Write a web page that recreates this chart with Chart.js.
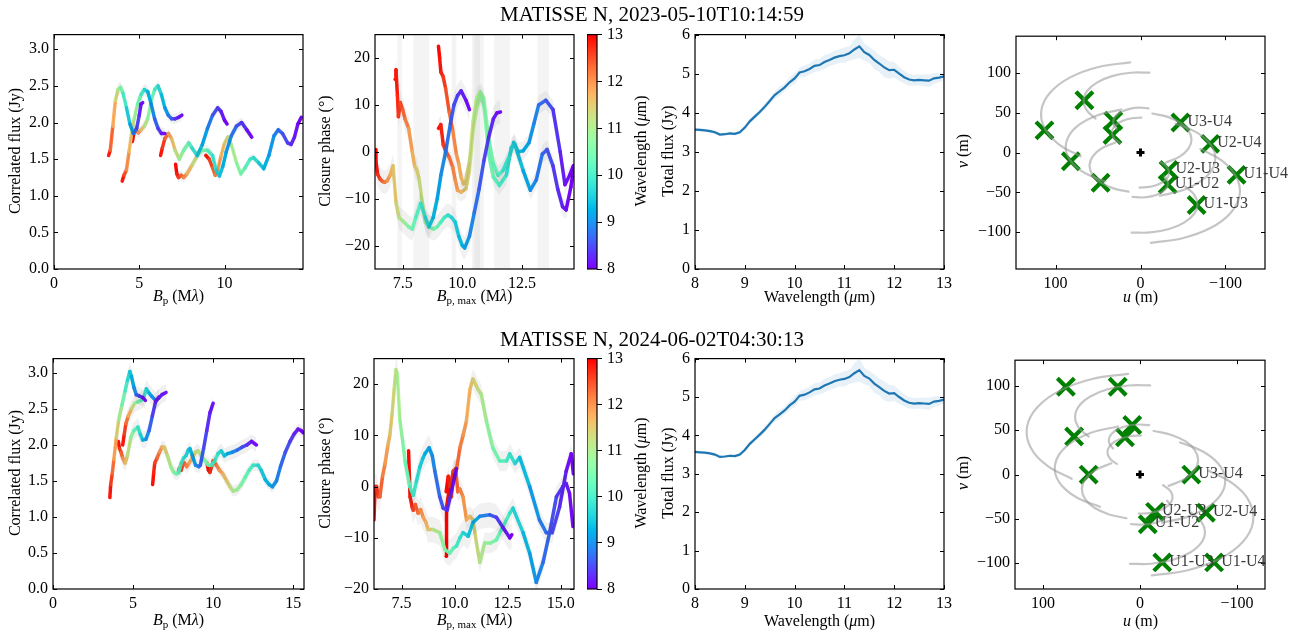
<!DOCTYPE html>
<html>
<head>
<meta charset="utf-8">
<script src="https://cdn.jsdelivr.net/npm/chart.js@4.4.1/dist/chart.umd.min.js"></script>
<style>
  body { margin: 0; background: #fff; width: 1303px; height: 635px; position: relative; overflow: hidden;
         font-family: "Liberation Serif", "Times New Roman", serif; }
  canvas { position: absolute; }
  .t { position: absolute; font-size: 16px; white-space: nowrap; color: #000; line-height: 1; }
  .c { transform: translate(-50%, -50%); }
  .r { transform: translate(-50%, -50%) rotate(-90deg); }
  .ttl { font-size: 21px; }
  sub { font-size: 11px; vertical-align: -3px; }
</style>
</head>
<body>
<script>
// ---- correlated flux, epoch 1 (baseline length in m, Bp in Mlambda, flux in Jy)
const cf1Base = [41.6, 52, 60, 81, 92.7, 115.6];
const cf1Bp = [
  [3.2, 3.3, 3.45, 3.6, 3.75, 3.9, 4.05, 4.25, 4.45, 4.65, 4.85, 5.0, 5.1, 5.2],
  [4.0, 4.1, 4.25, 4.4, 4.55, 4.7, 4.9, 5.1, 5.3, 5.5, 5.7, 5.9, 6.1, 6.3, 6.5],
  [4.6, 4.7, 4.8, 4.95, 5.1, 5.3, 5.5, 5.7, 5.9, 6.1, 6.3, 6.5, 6.7, 6.9, 7.1, 7.3, 7.5],
  [6.25, 6.35, 6.5, 6.7, 6.9, 7.1, 7.35, 7.6, 7.9, 8.1, 8.4, 8.7, 9.0, 9.3, 9.6, 9.8, 10.0, 10.15],
  [7.13, 7.2, 7.3, 7.45, 7.6, 7.8, 8.1, 8.4, 8.7, 9.0, 9.3, 9.5, 9.7, 9.9, 10.1, 10.4, 10.7, 11.0, 11.3, 11.6],
  [8.9, 9.1, 9.3, 9.45, 9.6, 9.8, 10.0, 10.2, 10.4, 10.7, 10.95, 11.2, 11.5, 11.7, 12.0, 12.3, 12.6, 12.9, 13.15, 13.4, 13.7, 13.9, 14.1, 14.3, 14.5]
];
const cf1Flux = [
  [1.55, 1.62, 1.95, 2.3, 2.45, 2.48, 2.4, 2.2, 1.98, 1.85, 1.92, 2.1, 2.25, 2.27],
  [1.2, 1.28, 1.35, 1.6, 1.85, 2.05, 2.25, 2.38, 2.45, 2.42, 2.25, 2.05, 1.92, 1.85, 1.85],
  [1.74, 1.88, 1.9, 1.86, 1.9, 1.95, 2.05, 2.3, 2.45, 2.5, 2.38, 2.2, 2.1, 2.05, 2.05, 2.07, 2.1],
  [1.55, 1.65, 1.78, 1.85, 1.78, 1.62, 1.5, 1.62, 1.72, 1.65, 1.55, 1.7, 1.92, 2.1, 2.2, 2.15, 2.03, 1.98],
  [1.43, 1.3, 1.25, 1.28, 1.25, 1.3, 1.42, 1.55, 1.62, 1.62, 1.55, 1.35, 1.27, 1.4, 1.6, 1.82, 1.95, 2.0, 1.9, 1.8],
  [1.55, 1.5, 1.38, 1.28, 1.35, 1.55, 1.72, 1.8, 1.7, 1.45, 1.3, 1.38, 1.5, 1.52, 1.45, 1.37, 1.55, 1.82, 1.9, 1.85, 1.72, 1.7, 1.8, 1.98, 2.07]
];
const cf1Err = [0.08, 0.08, 0.07, 0.06, 0.07, 0.05];

// ---- correlated flux, epoch 2
const cf2Base = [46, 53, 56.5, 80.6, 101.6, 125];
const cf2Bp = [
  [3.55, 3.6, 3.7, 3.8, 3.95, 4.1, 4.3, 4.5, 4.65, 4.8, 4.9, 5.05, 5.2, 5.4, 5.6, 5.77],
  [4.08, 4.15, 4.25, 4.35, 4.5, 4.65, 4.85, 5.05, 5.3, 5.45, 5.6, 5.8, 6.0, 6.2, 6.4, 6.63],
  [4.35, 4.45, 4.55, 4.7, 4.9, 5.1, 5.3, 5.5, 5.65, 5.83, 6.0, 6.15, 6.4, 6.6, 6.8, 7.06],
  [6.22, 6.28, 6.35, 6.5, 6.65, 6.8, 6.95, 7.15, 7.35, 7.55, 7.7, 7.85, 8.0, 8.15, 8.3, 8.45, 8.55, 8.7, 8.9, 9.1, 9.2, 9.4, 9.6, 9.8, 10.0],
  [7.82, 7.9, 8.0, 8.1, 8.2, 8.35, 8.5, 8.7, 8.9, 9.05, 9.25, 9.5, 9.7, 9.9, 10.1, 10.3, 10.5, 10.7, 10.9, 11.2, 11.5, 11.8, 12.1, 12.4, 12.7],
  [9.62, 9.7, 9.8, 9.9, 10.0, 10.2, 10.4, 10.6, 10.85, 11.05, 11.25, 11.5, 11.75, 12.0, 12.25, 12.5, 12.8, 13.0, 13.25, 13.5, 13.7, 13.95, 14.2, 14.5, 14.8, 15.05, 15.3, 15.5, 15.62]
];
const cf2Flux = [
  [1.27, 1.45, 1.6, 1.8, 2.1, 2.35, 2.55, 2.75, 2.9, 3.02, 2.95, 2.8, 2.7, 2.68, 2.66, 2.62],
  [2.05, 1.95, 1.9, 1.82, 1.75, 1.85, 2.1, 2.2, 2.25, 2.15, 2.07, 2.08, 2.2, 2.4, 2.6, 2.67],
  [2.0, 2.15, 2.3, 2.4, 2.5, 2.58, 2.6, 2.62, 2.65, 2.78, 2.72, 2.68, 2.62, 2.65, 2.7, 2.73],
  [1.45, 1.6, 1.75, 1.82, 1.9, 1.97, 1.97, 1.85, 1.7, 1.62, 1.6, 1.62, 1.75, 1.82, 1.85, 1.93, 1.95, 1.85, 1.72, 1.7, 1.72, 1.95, 2.2, 2.45, 2.58],
  [1.62, 1.68, 1.65, 1.72, 1.75, 1.7, 1.75, 1.82, 1.9, 1.92, 1.85, 1.78, 1.72, 1.72, 1.78, 1.88, 1.92, 1.85, 1.88, 1.9, 1.93, 1.97, 2.0, 2.05, 2.0],
  [1.75, 1.65, 1.62, 1.7, 1.78, 1.72, 1.65, 1.6, 1.5, 1.42, 1.36, 1.38, 1.45, 1.55, 1.65, 1.72, 1.72, 1.65, 1.52, 1.45, 1.42, 1.5, 1.7, 1.9, 2.05, 2.15, 2.22, 2.2, 2.17]
];
const cf2Err = [0.12, 0.12, 0.12, 0.09, 0.1, 0.08];

// ---- closure phase, epoch 1 (longest baseline of each triangle in m, phase in deg)
const cp1Base = [82.5, 93, 116.7, 116.7];
const cp1Bp = [
  [6.34, 6.38, 6.45, 6.55, 6.65, 6.75, 6.85, 6.97, 7.1, 7.22, 7.35, 7.55, 7.75, 7.9, 8.05, 8.25, 8.45, 8.6, 8.78, 8.95, 9.1, 9.3, 9.5, 9.65, 9.8, 9.95, 10.15, 10.3],
  [7.18, 7.22, 7.28, 7.32, 7.4, 7.5, 7.6, 7.75, 7.9, 8.0, 8.1, 8.2, 8.3, 8.45, 8.6, 8.8, 8.95, 9.1, 9.25, 9.4, 9.55, 9.7, 9.85, 10.0, 10.1, 10.3, 10.5, 10.7, 10.9, 11.1, 11.3, 11.45, 11.6],
  [9.0, 9.05, 9.1, 9.2, 9.3, 9.45, 9.6, 9.75, 9.85, 9.95, 10.05, 10.15, 10.3, 10.45, 10.6, 10.75, 10.9, 11.1, 11.3, 11.5, 11.7, 12.0, 12.15, 12.35, 12.55, 12.8, 13.0, 13.2, 13.5, 13.8, 14.1, 14.3, 14.5, 14.65],
  [9.0, 9.1, 9.2, 9.3, 9.45, 9.6, 9.7, 9.8, 9.95, 10.15, 10.3, 10.45, 10.6, 10.75, 10.9, 11.1, 11.3, 11.55, 11.85, 12.05, 12.2, 12.55, 12.85, 13.1, 13.35, 13.55, 13.8, 14.0, 14.2, 14.35, 14.55, 14.68]
];
const cp1Phase = [
  [0.5, -2, -4.8, -5.8, -6.3, -6.5, -6.2, -5, -3, -11, -14, -15, -16, -16.5, -14, -11, -14, -16, -14, -10, -5, 0, 6, 10, 12, 13, 11, 9],
  [15.5, 17.5, 12, 7.5, 10.5, 9, 7, 5, 0, -3, -4, -6, -10, -15, -16, -16.5, -16, -15, -14, -13.5, -14, -15, -18, -20, -20.5, -18, -13, -8, -2, 3, 7, 8.3, 8.5],
  [22.5, 20, 17, 16, 13.5, 8.5, 4.5, -0.5, -2.5, -5.5, -6.8, -6, -2, 6.5, 11.4, 12.8, 11.5, 3, -2.5, -5, -4, -0.5, 2, 0, 0.2, 2, 6, 10, 11, 9, 0, -7, -5, -3],
  [5, 5.8, 1.5, 0.2, -1.2, -3.3, -6, -8.2, -8.6, -7.9, -4, 4.4, 9.3, 11.8, 10, -0.5, -5.4, -7.2, -5, 0.9, 1.6, -4, -8.2, -6, -0.5, 0.5, -3, -8, -11.7, -12.4, -7.5, -3]
];
const cp1Err = [2.5, 2.5, 2, 2];
const cp1Gaps = [[7.28, 7.47], [7.95, 8.62], [9.55, 9.75], [10.4, 10.9], [10.5, 10.75], [11.33, 12.0], [13.15, 13.63]];

// ---- closure phase, epoch 2
const cp2Base = [80.6, 101.6, 125, 125];
const cp2Bp = [
  [6.2, 6.25, 6.32, 6.4, 6.48, 6.6, 6.72, 6.85, 6.95, 7.05, 7.15, 7.23, 7.3, 7.42, 7.55, 7.66, 7.89, 8.05, 8.2, 8.36, 8.5, 8.6, 8.8, 8.95, 9.07, 9.3, 9.46, 9.65, 9.85, 10.09],
  [7.83, 7.86, 7.9, 8.0, 8.05, 8.15, 8.28, 8.4, 8.52, 8.65, 8.75, 8.99, 9.3, 9.54, 9.77, 9.95, 10.09, 10.25, 10.4, 10.64, 10.87, 11.19, 11.66, 11.97, 12.28, 12.6, 12.7],
  [9.6, 9.62, 9.77, 9.95, 10.1, 10.25, 10.4, 10.56, 10.72, 10.87, 11.1, 11.26, 11.5, 11.8, 12.13, 12.45, 12.6, 12.85, 13.07, 13.54, 14.0, 14.32, 14.6, 14.95, 15.26, 15.5, 15.6],
  [9.6, 9.7, 9.85, 9.93, 10.05, 10.15, 10.25, 10.4, 10.56, 10.72, 10.87, 11.03, 11.19, 11.42, 11.7, 11.97, 12.2, 12.6, 12.75, 13.23, 13.54, 13.85, 14.17, 14.48, 14.8, 15.1, 15.26, 15.42, 15.58]
];
const cp2Phase = [
  [-6.5, 0, 0, -2, -2, 2, 4.4, 8, 10, 14, 19, 22.8, 22, 12.8, 9, 5, 0, -1.7, 1, 3.8, 5.5, 6.4, 7.6, 6, 3, -2, -4.2, -4.6, -1, 3.5],
  [7, 3, -2, -4, -4.6, -3.5, -5.2, -4.5, -6, -7, -8.4, -8.4, -9, -12.3, -13, -12, -11.6, -10, -9, -9.7, -7, -5.8, -5.5, -6, -8, -10, -9.4],
  [-13.6, -4, 0, 3, 3.5, 7.6, 10, 12.8, 19, 21, 19, 18, 12.8, 7.6, 5, 5, 6.4, 4.5, 5.7, 0, -6.5, -9, -9, -4, 3, 6.4, 2.5],
  [-1, 2, -2, 3, 3.5, -1, -0.5, -2, -6.5, -5.8, -6.5, -11, -14.8, -11, -11, -10.4, -8.5, -5.2, -4.2, -9, -13, -18.7, -14.8, -9, -2, 0, 0.6, -1.3, -7.8]
];
const cp2Err = [2.5, 2.5, 2, 2];

// ---- total flux (same for both epochs)
const wave = [8.0, 8.1, 8.2, 8.3, 8.4, 8.5, 8.6, 8.7, 8.8, 8.9, 9.0, 9.1, 9.2, 9.3, 9.4, 9.5, 9.6, 9.7, 9.8, 9.9,
  10.0, 10.1, 10.2, 10.3, 10.4, 10.5, 10.6, 10.7, 10.8, 10.9, 11.0, 11.1, 11.2, 11.3, 11.4, 11.5, 11.6, 11.7, 11.8, 11.9,
  12.0, 12.1, 12.2, 12.3, 12.4, 12.5, 12.6, 12.7, 12.8, 12.9, 13.0];
const totFlux = [3.57, 3.56, 3.55, 3.53, 3.5, 3.44, 3.45, 3.47, 3.46, 3.5, 3.62, 3.78, 3.9, 4.02, 4.15, 4.3, 4.45, 4.55, 4.65, 4.78,
  4.88, 5.03, 5.06, 5.12, 5.2, 5.22, 5.3, 5.35, 5.41, 5.45, 5.47, 5.52, 5.62, 5.7, 5.55, 5.48, 5.35, 5.26, 5.16, 5.09,
  5.1, 5.0, 4.91, 4.85, 4.83, 4.84, 4.83, 4.82, 4.88, 4.9, 4.93];
const totErr = [0.04, 0.04, 0.04, 0.04, 0.05, 0.05, 0.04, 0.04, 0.04, 0.05, 0.06, 0.06, 0.07, 0.07, 0.08, 0.08, 0.1, 0.12, 0.1, 0.12,
  0.14, 0.12, 0.15, 0.14, 0.16, 0.15, 0.18, 0.16, 0.18, 0.17, 0.2, 0.18, 0.25, 0.3, 0.22, 0.2, 0.24, 0.22, 0.25, 0.22,
  0.2, 0.18, 0.16, 0.15, 0.14, 0.14, 0.15, 0.16, 0.14, 0.12, 0.1];

// ---- uv coverage (m); labelled points, mirrored points are drawn negated
const uv1Names = ["U3-U4", "U2-U4", "U2-U3", "U1-U2", "U1-U4", "U1-U3"];
const uv1Pts = [[-47, 38], [-82, 11], [-33, -22], [-32, -40], [-113, -28], [-66, -66]];
const uv2Names = ["U3-U4", "U2-U3", "U1-U2", "U2-U4", "U1-U3", "U1-U4"];
const uv2Pts = [[-53, 0], [-15.5, -42], [-8, -56], [-68, -43], [-23, -99], [-76.5, -99]];
// tracks over the night (same for both epochs), one side; the other side is the negation
const uvTracks = [
  [[12.2, 113.6], [49.4, 107.8], [82.7, 94.7], [106, 75.9], [116.6, 53.8], [113, 30.9], [95.8, 10.1], [70.4, -4.7]],
  [[-10.5, 100.6], [11.6, 100.5], [33.5, 96.2], [51.3, 88.1], [63, 77.3], [67, 65], [63, 52.7], [52.8, 42.8]],
  [[22.8, 54.3], [50.5, 47.1], [72.1, 35.1], [85, 19.7], [87.7, 2.7], [80.4, -12.9], [64.4, -26.4], [41.3, -36.3]],
  [[29.5, 12.7], [46, 5.1], [56.4, -5], [60, -16.5], [56.4, -28], [47, -37.4], [31.8, -45], [14, -49.2]],
  [[-9.4, 55.7], [1.7, 56.5], [12.6, 55.1], [22, 51.7], [28.7, 46.7], [31.9, 41], [31.6, 35.1], [27.9, 29.5]],
  [[-1.2, 44.1], [10.4, 43.2], [20.7, 40.1], [28.5, 35.3], [32.9, 29.2], [33.3, 23], [30.2, 17.1], [23.8, 12]]
];

// ---- ticks
const cfTicksY = [0, 0.5, 1, 1.5, 2, 2.5, 3];
const cf1TicksX = [0, 5, 10];
const cf2TicksX = [0, 5, 10, 15];
const cp1TicksX = [7.5, 10, 12.5];
const cp2TicksX = [7.5, 10, 12.5, 15];
const cpTicksY = [-20, -10, 0, 10, 20];
const lamTicks = [8, 9, 10, 11, 12, 13];
const totTicksY = [0, 1, 2, 3, 4, 5, 6];
const uvTicksU = [100, 0, -100];
const uvTicksV = [-100, -50, 0, 50, 100];

const FONT = '"Liberation Serif", "Times New Roman", serif';
Chart.defaults.font.family = FONT;
Chart.defaults.font.size = 16;
Chart.defaults.color = '#000';

const PL = 70, PT = 12, PR = 20, PB = 40;

function addCanvas(left, top, w, h) {
  const c = document.createElement('canvas');
  c.width = w; c.height = h;
  c.style.left = left + 'px'; c.style.top = top + 'px';
  c.style.width = w + 'px'; c.style.height = h + 'px';
  document.body.appendChild(c);
  return c;
}

function label(html, x, y, cls) {
  const d = document.createElement('div');
  d.className = 't ' + cls;
  d.style.left = x + 'px'; d.style.top = y + 'px';
  d.innerHTML = html;
  document.body.appendChild(d);
}

// matplotlib "rainbow"
function rainbow(t) {
  t = Math.max(0, Math.min(1, t));
  const r = Math.min(1, Math.abs(2 * t - 0.5));
  const g = Math.sin(Math.PI * t);
  const b = Math.cos(Math.PI * t / 2);
  return `rgb(${Math.round(r * 255)},${Math.round(g * 255)},${Math.round(b * 255)})`;
}
const lamColor = lam => rainbow((lam - 8) / 5);

const fmt = (v, dec) => {
  const s = dec ? v.toFixed(dec) : String(Math.round(v));
  return s.replace('-', '\u2212');
};

function axis(min, max, ticks, dec, side, size, reverse) {
  return {
    type: 'linear', min, max, reverse: !!reverse,
    grid: { display: false, drawTicks: false },
    border: { display: false },
    ticks: { padding: 5, maxRotation: 0, autoSkip: false, callback: v => fmt(v, dec) },
    afterBuildTicks: s => { s.ticks = ticks.map(value => ({ value })); },
    afterFit: s => { if (side === 'x') s.height = size; else s.width = size; }
  };
}

// frame with inward ticks on all four sides
const frame = {
  id: 'frame',
  afterDatasetsDraw(chart) {
    const { ctx, chartArea: a, scales: { x, y } } = chart;
    ctx.save();
    ctx.strokeStyle = '#000';
    ctx.lineWidth = 1;
    ctx.beginPath();
    x.ticks.forEach(t => {
      const p = Math.round(x.getPixelForValue(t.value)) + 0.5;
      ctx.moveTo(p, a.bottom); ctx.lineTo(p, a.bottom - 4);
      ctx.moveTo(p, a.top); ctx.lineTo(p, a.top + 4);
    });
    y.ticks.forEach(t => {
      const p = Math.round(y.getPixelForValue(t.value)) + 0.5;
      ctx.moveTo(a.left, p); ctx.lineTo(a.left + 4, p);
      ctx.moveTo(a.right, p); ctx.lineTo(a.right - 4, p);
    });
    ctx.stroke();
    ctx.lineWidth = 1.2;
    ctx.strokeRect(a.left, a.top, a.right - a.left, a.bottom - a.top);
    ctx.restore();
  }
};

function baseOptions(xAx, yAx, padR = PR) {
  return {
    responsive: false, animation: false, events: [],
    layout: { padding: { left: 0, top: PT, right: padR, bottom: 0 } },
    plugins: { legend: { display: false }, tooltip: { enabled: false } },
    elements: { point: { radius: 0 } },
    scales: { x: xAx, y: yAx }
  };
}

function plotBox(L, T, R, B, padR = PR) {
  return addCanvas(L - PL, T - PT, R - L + PL + padR, B - T + PT + PB);
}

// wavelength-coloured curves plus grey error bands
function colourSets(xs, ys, bases, errs, band) {
  const sets = [];
  xs.forEach((xa, i) => {
    sets.push({ data: xa.map((x, k) => ({ x, y: ys[i][k] + errs[i] })), borderWidth: 0, fill: false });
    sets.push({ data: xa.map((x, k) => ({ x, y: ys[i][k] - errs[i] })), borderWidth: 0, fill: '-1', backgroundColor: band });
  });
  xs.forEach((xa, i) => {
    const B = bases[i];
    sets.push({
      data: xa.map((x, k) => ({ x, y: ys[i][k] })),
      borderWidth: 3.5, borderCapStyle: 'round', borderJoinStyle: 'round',
      borderColor: lamColor(B / xa[Math.floor(xa.length / 2)]),
      segment: { borderColor: c => lamColor(2 * B / (c.p0.parsed.x + c.p1.parsed.x)) }
    });
  });
  return sets;
}

function corrFlux(L, T, R, B, xs, ys, bases, errs, xMax, xTicks) {
  new Chart(plotBox(L, T, R, B), {
    type: 'line',
    data: { datasets: colourSets(xs, ys, bases, errs, 'rgba(0,0,0,0.06)') },
    options: baseOptions(axis(0, xMax, xTicks, 0, 'x', PB), axis(0, 3.2, cfTicksY, 1, 'y', PL)),
    plugins: [frame]
  });
}

function closure(L, T, R, B, xs, ys, bases, errs, xMin, xMax, yMin, xTicks, gaps) {
  const gapPlugin = {
    id: 'gaps',
    beforeDatasetsDraw(chart) {
      const { ctx, chartArea: a, scales: { x } } = chart;
      ctx.save();
      ctx.fillStyle = 'rgba(0,0,0,0.045)';
      gaps.forEach(g => {
        const p0 = x.getPixelForValue(g[0]), p1 = x.getPixelForValue(g[1]);
        ctx.fillRect(p0, a.top, p1 - p0, a.bottom - a.top);
      });
      ctx.restore();
    }
  };
  new Chart(plotBox(L, T, R, B), {
    type: 'line',
    data: { datasets: colourSets(xs, ys, bases, errs, 'rgba(0,0,0,0.055)') },
    options: baseOptions(axis(xMin, xMax, xTicks, 1, 'x', PB), axis(yMin, 25, cpTicksY, 0, 'y', PL)),
    plugins: [gapPlugin, frame]
  });
}

function colourBar(L, T, R, B) {
  const w = 44;
  const cv = addCanvas(L, T - PT, R - L + w, B - T + PT + PB);
  const bar = {
    id: 'bar',
    beforeDatasetsDraw(chart) {
      const { ctx, chartArea: a, scales: { y } } = chart;
      for (let p = Math.floor(a.top); p < a.bottom; p++) {
        ctx.fillStyle = lamColor(y.getValueForPixel(p + 0.5));
        ctx.fillRect(a.left, p, a.right - a.left, 1);
      }
    },
    afterDraw(chart) {
      const { ctx, chartArea: a } = chart;
      ctx.save();
      ctx.strokeStyle = '#000'; ctx.lineWidth = 1.2;
      ctx.strokeRect(a.left, a.top, a.right - a.left, a.bottom - a.top);
      ctx.restore();
    }
  };
  new Chart(cv, {
    type: 'line',
    data: { datasets: [] },
    options: {
      responsive: false, animation: false, events: [],
      layout: { padding: { left: 0, top: PT, right: 0, bottom: PB } },
      plugins: { legend: { display: false }, tooltip: { enabled: false } },
      scales: {
        x: { type: 'linear', display: false, min: 0, max: 1 },
        y: {
          type: 'linear', position: 'right', min: 8, max: 13,
          grid: { display: true, drawOnChartArea: false, drawTicks: true, tickLength: 5, color: '#000' },
          border: { display: false },
          ticks: { padding: 5, callback: v => fmt(v, 0) },
          afterBuildTicks: s => { s.ticks = lamTicks.map(value => ({ value })); },
          afterFit: s => { s.width = w; }
        }
      }
    },
    plugins: [bar]
  });
}

function totalFlux(L, T, R, B) {
  const up = wave.map((x, k) => ({ x, y: totFlux[k] + totErr[k] }));
  const lo = wave.map((x, k) => ({ x, y: totFlux[k] - totErr[k] }));
  new Chart(plotBox(L, T, R, B), {
    type: 'line',
    data: {
      datasets: [
        { data: up, borderWidth: 0, fill: false },
        { data: lo, borderWidth: 0, fill: '-1', backgroundColor: 'rgba(31,119,180,0.1)' },
        { data: wave.map((x, k) => ({ x, y: totFlux[k] })), borderColor: '#1f77b4', borderWidth: 2.2 }
      ]
    },
    options: baseOptions(axis(8, 13, lamTicks, 0, 'x', PB), axis(0, 6, totTicksY, 0, 'y', PL)),
    plugins: [frame]
  });
}

function uvPlane(L, T, R, B, lim, pts, names, tracks) {
  const sets = [];
  tracks.forEach(tr => {
    [1, -1].forEach(s => {
      sets.push({
        data: tr.map(p => ({ x: s * p[0], y: s * p[1] })),
        borderColor: 'rgba(150,150,150,0.55)', borderWidth: 2.2, tension: 0.4, borderCapStyle: 'round'
      });
    });
  });
  sets.push({ data: [{ x: 0, y: 0 }], showLine: false, pointStyle: 'cross', pointRadius: 4, borderWidth: 3, borderColor: '#000' });
  sets.push({
    data: pts.map(p => ({ x: p[0], y: p[1] })).concat(pts.map(p => ({ x: -p[0], y: -p[1] }))),
    showLine: false, pointStyle: 'crossRot', pointRadius: 12, borderWidth: 4.2, borderColor: '#008000'
  });
  const nameTags = {
    id: 'names',
    afterDatasetsDraw(chart) {
      const { ctx, scales: { x, y } } = chart;
      ctx.save();
      ctx.font = '16px ' + FONT;
      ctx.fillStyle = '#3a3a3a';
      ctx.textBaseline = 'middle';
      pts.forEach((p, i) => ctx.fillText(names[i], x.getPixelForValue(p[0]) + 7, y.getPixelForValue(p[1]) - 1));
      ctx.restore();
    }
  };
  new Chart(plotBox(L, T, R, B, 38), {
    type: 'line',
    data: { datasets: sets },
    options: baseOptions(axis(-lim, lim, uvTicksU, 0, 'x', PB, true), axis(-lim, lim, uvTicksV, 0, 'y', PL), 38),
    plugins: [frame, nameTags]
  });
}

// ---------- row 1
corrFlux(54, 32, 303, 269, cf1Bp, cf1Flux, cf1Base, cf1Err, 14.6, cf1TicksX);
closure(375, 32, 574, 269, cp1Bp, cp1Phase, cp1Base, cp1Err, 6.34, 14.68, -25, cp1TicksX, cp1Gaps);
colourBar(587, 32, 597, 269);
totalFlux(695, 32, 944, 269);
uvPlane(1016, 32, 1265, 269, 146.5, uv1Pts, uv1Names, uvTracks);

// ---------- row 2
corrFlux(53, 356, 304, 589, cf2Bp, cf2Flux, cf2Base, cf2Err, 15.67, cf2TicksX);
closure(374, 356, 574, 589, cp2Bp, cp2Phase, cp2Base, cp2Err, 6.2, 15.63, -20, cp2TicksX, []);
colourBar(587, 356, 597, 589);
totalFlux(695, 356, 944, 589);
uvPlane(1015, 356, 1265, 589, 129, uv2Pts, uv2Names, uvTracks);

// ---------- titles and axis labels
label('MATISSE N, 2023-05-10T10:14:59', 652, 14, 'c ttl');
label('MATISSE N, 2024-06-02T04:30:13', 652, 339, 'c ttl');
[[150.5, 297], [472.5, 621]].forEach(([yc, xb]) => {
  label('Correlated flux (Jy)', 15, yc, 'r');
  label('Closure phase (°)', 325, yc, 'r');
  label('Wavelength (<i>μ</i>m)', 641, yc, 'r');
  label('Total flux (Jy)', 668, yc, 'r');
  label('<i>v</i> (m)', 963, yc, 'r');
  label('<i>B</i><sub>p</sub> (M<i>λ</i>)', 178.5, xb, 'c');
  label('<i>B</i><sub>p, max</sub> (M<i>λ</i>)', 474.5, xb, 'c');
  label('Wavelength (<i>μ</i>m)', 819.5, xb, 'c');
  label('<i>u</i> (m)', 1140.5, xb, 'c');
});
</script>
</body>
</html>
